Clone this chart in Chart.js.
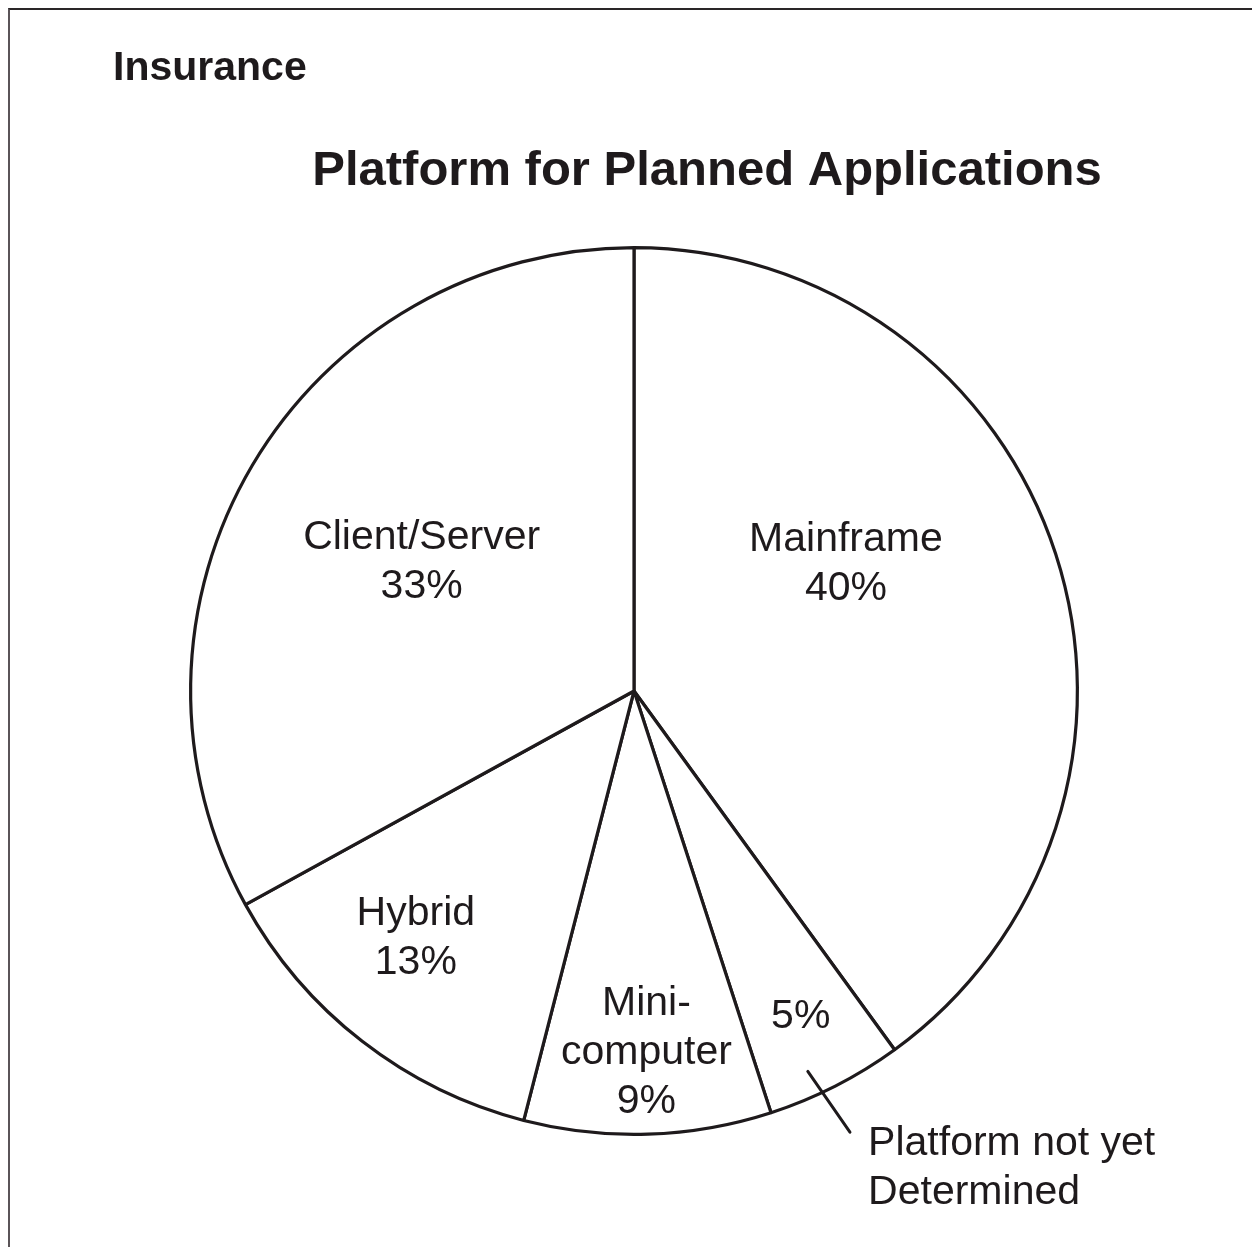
<!DOCTYPE html>
<html lang="en">
<head>
<meta charset="UTF-8">
<title>Platform for Planned Applications</title>
<style>
  body { margin: 0; background: #fff; }
  #wrap { position: relative; width: 1252px; height: 1247px; overflow: hidden; }
  #frame {
    position: absolute; left: 8px; top: 8px; right: -4px; bottom: -4px;
    border-top: 2px solid #2a2628; border-left: 2px solid #5a5458;
  }
  canvas { position: absolute; left: 0; top: 0; }
</style>
</head>
<body>
<div id="wrap">
  <div id="frame"></div>
  <canvas id="pieChart" width="1252" height="1247"></canvas>
</div>

<script src="https://cdn.jsdelivr.net/npm/chart.js"></script>
<script>
  // data, clockwise from 12 o'clock
  const platforms = ['Mainframe', 'Platform not yet Determined', 'Mini-computer', 'Hybrid', 'Client/Server'];
  const shares = [40, 5, 9, 13, 33];
  const insideNames = [['Mainframe'], [], ['Mini-', 'computer'], ['Hybrid'], ['Client/Server']];
  const outsideNote = ['Platform not yet', 'Determined'];

  const ink = '#1e1a1c';
  const labelFont = '41px "Liberation Sans", Arial, sans-serif';

  // where each slice label sits, relative to pie centre in units of radius
  // (x = centre of text, y = baseline of first line)
  const labelSpots = [
    { x: 0.478, y: -0.316 },
    { x: 0.376, y: 0.761 },
    { x: 0.028, y: 0.730 },
    { x: -0.492, y: 0.527 },
    { x: -0.479, y: -0.321 }
  ];
  const lineStep = 49;

  const textPlugin = {
    id: 'pieText',
    afterDraw(chart) {
      const ctx = chart.ctx;
      const arc = chart.getDatasetMeta(0).data[0];
      const cx = arc.x, cy = arc.y, R = arc.outerRadius;

      ctx.save();
      ctx.fillStyle = ink;
      ctx.textBaseline = 'alphabetic';

      // headings
      ctx.textAlign = 'left';
      ctx.font = 'bold 41px "Liberation Sans", Arial, sans-serif';
      ctx.fillText('Insurance', 113, 80);
      ctx.textAlign = 'center';
      ctx.font = 'bold 49px "Liberation Sans", Arial, sans-serif';
      ctx.fillText('Platform for Planned Applications', 707, 185);

      // slice labels
      ctx.font = labelFont;
      shares.forEach((v, i) => {
        const lines = insideNames[i].concat([v + '%']);
        const spot = labelSpots[i];
        lines.forEach((t, k) => {
          ctx.fillText(t, cx + spot.x * R, cy + spot.y * R + k * lineStep);
        });
      });

      // leader line + note for the small slice
      ctx.strokeStyle = ink;
      ctx.lineWidth = 3;
      ctx.lineCap = 'round';
      ctx.beginPath();
      ctx.moveTo(cx + 0.392 * R, cy + 0.858 * R);
      ctx.lineTo(cx + 0.487 * R, cy + 0.995 * R);
      ctx.stroke();

      ctx.textAlign = 'left';
      outsideNote.forEach((t, k) => {
        ctx.fillText(t, cx + 0.528 * R, cy + 1.046 * R + k * lineStep);
      });
      ctx.restore();
    }
  };

  function renderChart() {
    const ctx = document.getElementById('pieChart').getContext('2d');
    new Chart(ctx, {
      type: 'pie',
      data: {
        labels: platforms,
        datasets: [{
          data: shares,
          backgroundColor: '#ffffff',
          borderColor: ink,
          borderWidth: 3.2
        }]
      },
      options: {
        responsive: false,
        animation: false,
        events: [],
        layout: { padding: { left: 189, right: 173, top: 246, bottom: 111 } },
        plugins: {
          legend: { display: false },
          tooltip: { enabled: false }
        }
      },
      plugins: [textPlugin]
    });
  }

  document.addEventListener('DOMContentLoaded', renderChart);
</script>
</body>
</html>
